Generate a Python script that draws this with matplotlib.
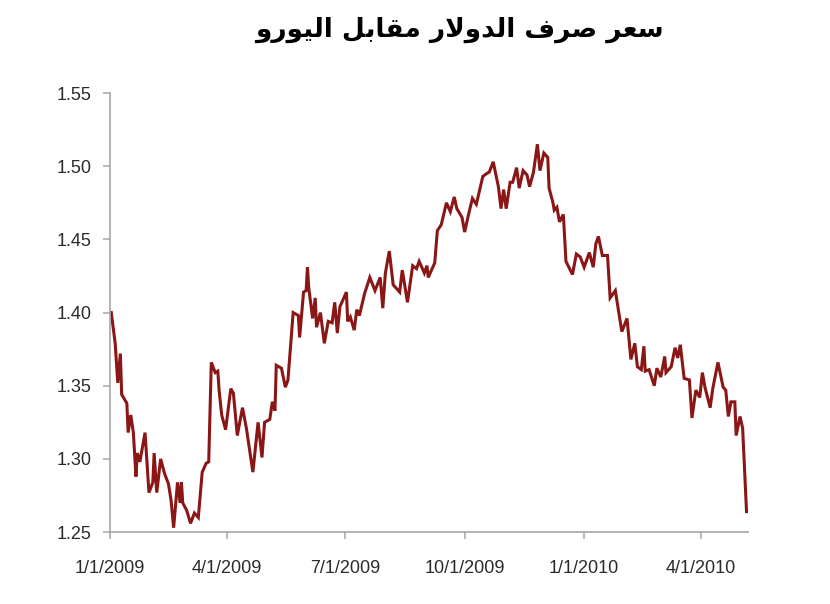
import matplotlib

matplotlib.use("Agg")
import matplotlib.pyplot as plt
import numpy as np
import pandas as pd


# logical title: "سعر صرف الدولار مقابل اليورو"
# matplotlib has no Arabic shaping / RTL, so the title is given in
# presentation forms, already in visual (left-to-right) order
TITLE_VISUAL = (
    "\ufeed\ufead\ufeee\ufef4\ufedf\ufe8d "
    "\ufede\ufe91\ufe8e\ufed8\ufee3 "
    "\ufead\ufefb\ufeed\ufeaa\ufedf\ufe8d "
    "\ufed1\ufeae\ufebb "
    "\ufeae\ufecc\ufeb3"
)

START_DATE = "2009-01-01"

# days after 1 Jan 2009
DAY_OFFSETS = [
    1, 4, 6, 8, 9, 13, 14, 16, 18, 20, 21, 23, 27, 30, 33, 34, 36, 39, 42, 45,
    47, 49, 52, 54, 55, 56, 59, 62, 65, 68, 71, 74, 76, 78, 81, 83, 84, 86, 89, 93,
    95, 98, 102, 105, 110, 114, 117, 119, 123, 125, 127, 128, 132, 135, 137, 141, 145, 146, 149, 151,
    152, 153, 156, 158, 159, 162, 165, 168, 171, 173, 175, 177, 182, 183, 185, 188, 190, 192, 196, 200,
    204, 208, 210, 212, 215, 218, 223, 225, 229, 233, 236, 238, 242, 244, 245, 250, 252, 255, 259, 262,
    265, 267, 271, 273, 276, 279, 282, 287, 290, 292, 295, 299, 301, 303, 305, 308, 310, 313, 315, 318,
    321, 323, 326, 329, 331, 334, 337, 338, 341, 342, 344, 346, 349, 351, 356, 359, 362, 365, 369, 372,
    374, 376, 379, 383, 385, 389, 394, 398, 401, 404, 406, 409, 411, 412, 415, 419, 421, 424, 427, 428,
    432, 435, 437, 439, 442, 446, 448, 451, 454, 456, 458, 462, 464, 468, 472, 474, 476, 478, 481, 482,
    485, 487, 490,
]

# USD per EUR
RATES = [
    1.400, 1.379, 1.352, 1.372, 1.344, 1.338, 1.318, 1.330, 1.318, 1.288,
    1.304, 1.298, 1.318, 1.277, 1.284, 1.304, 1.277, 1.300, 1.290, 1.283,
    1.272, 1.253, 1.284, 1.270, 1.284, 1.270, 1.265, 1.256, 1.263, 1.260,
    1.291, 1.297, 1.298, 1.366, 1.359, 1.360, 1.347, 1.330, 1.320, 1.348,
    1.345, 1.316, 1.335, 1.321, 1.291, 1.325, 1.301, 1.325, 1.327, 1.339,
    1.333, 1.364, 1.362, 1.349, 1.354, 1.400, 1.398, 1.383, 1.414, 1.415,
    1.431, 1.417, 1.396, 1.410, 1.390, 1.400, 1.379, 1.394, 1.393, 1.407,
    1.386, 1.404, 1.414, 1.394, 1.397, 1.388, 1.402, 1.398, 1.413, 1.424,
    1.415, 1.424, 1.403, 1.427, 1.442, 1.419, 1.414, 1.429, 1.407, 1.432,
    1.430, 1.435, 1.427, 1.432, 1.424, 1.434, 1.456, 1.460, 1.475, 1.469,
    1.479, 1.471, 1.465, 1.455, 1.467, 1.478, 1.474, 1.493, 1.495, 1.496,
    1.503, 1.486, 1.471, 1.484, 1.471, 1.489, 1.489, 1.499, 1.485, 1.497,
    1.494, 1.486, 1.496, 1.515, 1.497, 1.509, 1.506, 1.485, 1.475, 1.470,
    1.472, 1.462, 1.467, 1.435, 1.426, 1.440, 1.438, 1.431, 1.441, 1.431,
    1.447, 1.452, 1.439, 1.439, 1.410, 1.415, 1.387, 1.396, 1.368, 1.379,
    1.363, 1.361, 1.377, 1.360, 1.361, 1.350, 1.362, 1.356, 1.370, 1.359,
    1.363, 1.376, 1.369, 1.378, 1.355, 1.354, 1.328, 1.347, 1.342, 1.359,
    1.349, 1.335, 1.348, 1.366, 1.349, 1.347, 1.329, 1.339, 1.339, 1.316,
    1.329, 1.321, 1.264,
]

X_TICKS = ["2009-01-01", "2009-04-01", "2009-07-01", "2009-10-01", "2010-01-01", "2010-04-01"]
X_TICK_LABELS = ["1/1/2009", "4/1/2009", "7/1/2009", "10/1/2009", "1/1/2010", "4/1/2010"]
Y_TICKS = [1.25, 1.30, 1.35, 1.40, 1.45, 1.50, 1.55]

LINE_COLOR = "#8a1616"
AXIS_COLOR = "#a6a6a6"
TEXT_COLOR = "#2b2b2b"

plt.rcParams["font.family"] = ["Liberation Sans", "DejaVu Sans"]

start = pd.Timestamp(START_DATE)
dates = start + pd.to_timedelta(DAY_OFFSETS, unit="D")

fig = plt.figure(figsize=(8.3, 6.04), dpi=100)
fig.patch.set_facecolor("white")
ax = fig.add_axes([0.1325, 0.119, 0.7685, 0.727])

ax.plot(dates, RATES, color=LINE_COLOR, linewidth=2.2, solid_joinstyle="miter")

ax.set_xlim(start, start + pd.Timedelta(days=491))
ax.set_ylim(1.25, 1.55)
ax.set_yticks(Y_TICKS)
ax.set_yticklabels([f"{v:.2f}" for v in Y_TICKS])
ax.set_xticks(pd.to_datetime(X_TICKS))
ax.set_xticklabels(X_TICK_LABELS)

for side in ["top", "right"]:
    ax.spines[side].set_visible(False)
for side in ["left", "bottom"]:
    ax.spines[side].set_color(AXIS_COLOR)
    ax.spines[side].set_linewidth(1.2)

ax.tick_params(axis="both", colors=AXIS_COLOR, labelcolor=TEXT_COLOR,
               labelsize=13, length=5, width=1.1, direction="out")
ax.tick_params(axis="x", pad=15)
ax.tick_params(axis="y", pad=8)

fig.text(0.554, 0.95, TITLE_VISUAL, ha="center", va="center",
         fontsize=19, fontweight="bold", color="black", family="DejaVu Sans")

fig.savefig("out.png", dpi=100)
plt.close(fig)
